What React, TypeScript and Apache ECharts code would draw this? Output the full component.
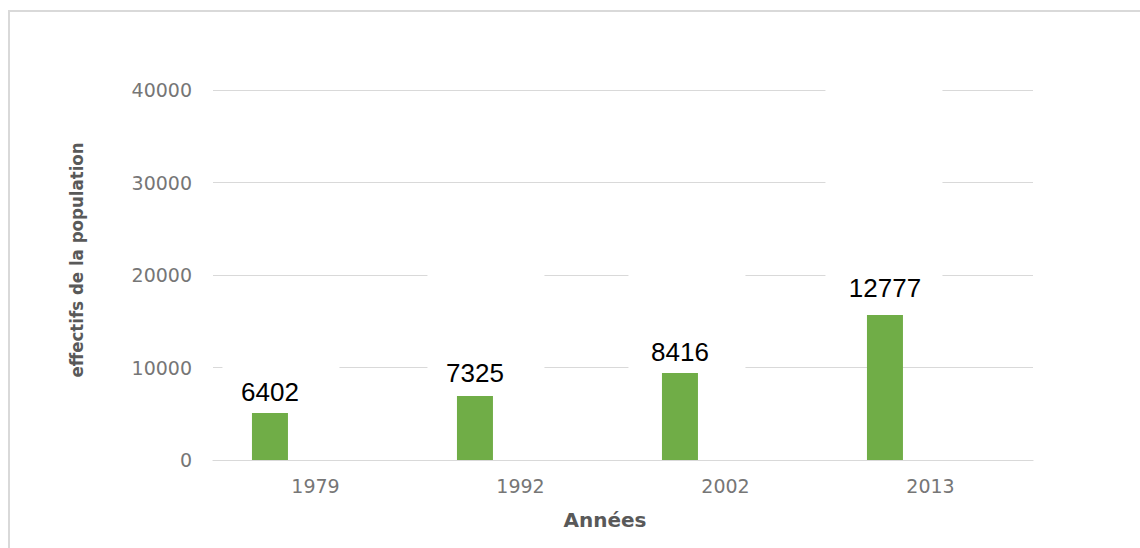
import React, { useEffect, useRef } from 'react';
import * as echarts from 'echarts';

const categories = ['1979', '1992', '2002', '2013'];
const barValues = [5080, 6920, 9400, 15680];
const labelTexts = ['6402', '7325', '8416', '12777'];
const emptyValues = [null, null, null, null];
const yMin = 0;
const yMax = 40000;
const yStep = 10000;
const labelPadTop = [60, 130, 110, 200];
const labelDistance = [0, 2, 0, 6];
const labelBoxShift = [11, 11, 7, -1];
const labelBoxWidth = 117;

export default function App() {
  const ref = useRef<HTMLDivElement>(null);
  useEffect(() => {
    const chart = echarts.init(ref.current!, null, { renderer: 'svg' });
    const axisGray = '#767676';
    chart.setOption({
      animation: false,
      backgroundColor: '#ffffff',
      grid: { left: 213, right: 107, top: 90, bottom: 88 },
      xAxis: {
        type: 'category',
        data: categories,
        axisLine: { lineStyle: { color: '#d9d9d9', width: 1.2 } },
        axisTick: { show: false },
        axisLabel: { color: axisGray, fontFamily: 'DejaVu Sans', fontSize: 19, margin: 16 },
      },
      yAxis: {
        type: 'value',
        min: yMin,
        max: yMax,
        interval: yStep,
        axisLine: { show: false },
        axisTick: { show: false },
        splitLine: { lineStyle: { color: '#d9d9d9', width: 1.2 } },
        axisLabel: {
          color: axisGray,
          fontFamily: 'DejaVu Sans',
          fontSize: 19,
          margin: 21,
          formatter: (v: number) => String(v),
        },
      },
      series: [
        {
          type: 'bar',
          name: 'population',
          data: barValues.map((v, i) => {
            const s = labelBoxShift[i];
            return {
              value: v,
              label: {
                padding: [labelPadTop[i], Math.max(0, 2 * s), 8, Math.max(0, -2 * s)],
                width: labelBoxWidth - 2 * Math.abs(s),
                offset: [s, 0],
                distance: labelDistance[i],
              },
            };
          }),
          barWidth: 36,
          barGap: '153%',
          itemStyle: { color: '#70ad47' },
          label: {
            show: true,
            position: 'top',
            formatter: (p: any) => labelTexts[p.dataIndex],
            color: '#000000',
            fontSize: 26,
            fontFamily: 'Liberation Sans',
            backgroundColor: '#ffffff',
            align: 'center',
          },
        },
        {
          type: 'bar',
          name: 'vide',
          data: emptyValues,
          barWidth: 36,
        },
      ],
      graphic: [
        {
          type: 'rect',
          shape: { x: 9, y: 11, width: 1300, height: 700 },
          style: { fill: 'none', stroke: '#d9d9d9', lineWidth: 2 },
          silent: true,
        },
        {
          type: 'text',
          x: 76,
          y: 260,
          rotation: Math.PI / 2,
          style: {
            text: 'effectifs de la population',
            fill: '#595959',
            font: "bold 18.5px 'Liberation Sans Narrow', 'DejaVu Sans Condensed', sans-serif",
            textAlign: 'center',
            textVerticalAlign: 'middle',
          },
        },
        {
          type: 'text',
          x: 605,
          y: 520,
          style: {
            text: 'Années',
            fill: '#595959',
            font: "bold 20px 'DejaVu Sans', sans-serif",
            textAlign: 'center',
            textVerticalAlign: 'middle',
          },
        },
      ],
    });
    return () => chart.dispose();
  }, []);
  return (
    <div
      ref={ref}
      style={{ position: 'fixed', left: 0, top: 0, width: 1140, height: 548 }}
    />
  );
}
